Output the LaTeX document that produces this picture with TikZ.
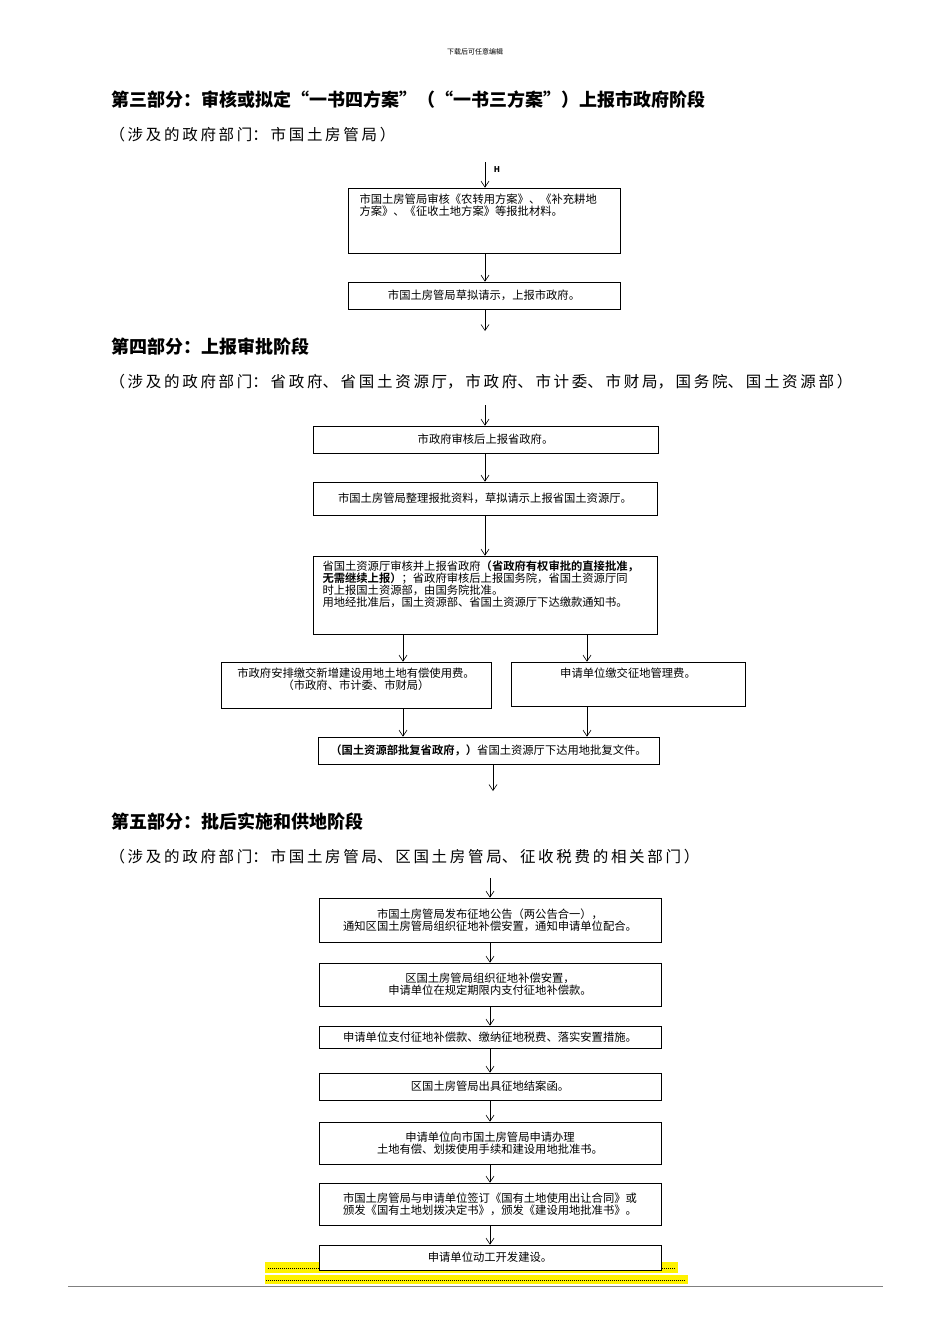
\documentclass[tikz,border=0pt]{standalone}
\usepackage{fontspec}
\setmainfont{Noto Sans CJK SC}
\newfontfamily\cjkb{Noto Sans CJK SC Bold}
\usetikzlibrary{arrows.meta}
\newcommand\gp{\hspace{2.7pt}}
\begin{document}
\begin{tikzpicture}[x=1pt,y=-1pt,
 bx/.style={draw,line width=0.7pt,inner sep=0pt},
 tx/.style={font=\fontsize{11.3}{12}\selectfont,align=center},
 ar/.style={-{Straight Barb[length=6pt,width=8pt]},line width=0.6pt},
 hd/.style={anchor=west,font=\fontsize{18}{19}\selectfont\bfseries},
 sb/.style={anchor=west,font=\fontsize{15.5}{18}\selectfont}]
\useasboundingbox[fill=white] (0,0) rectangle (950,1344);
\node[font=\fontsize{7}{8}\selectfont] (top) at (475,52) {下载后可任意编辑};
\node[hd] (h1) at (108,100) {第三部分：审核或拟定“一书四方案”（“一书三方案”）上报市政府阶段};
\node[sb] (s1) at (106,135) {（\gp 涉\gp 及\gp 的\gp 政\gp 府\gp 部\gp 门：\gp 市\gp 国\gp 土\gp 房\gp 管\gp 局\gp ）};
\node[font=\fontsize{8}{9}\selectfont\bfseries] (H) at (497,170) {H};
\coordinate (a0) at (485,162);
\node[bx,minimum width=272pt,minimum height=65pt] (b1) at (484,220.5) {};
\node[tx,align=left,anchor=north west,text width=260pt] (t1) at (356,190) {市国土房管局审核《农转用方案》、《补充耕地\\方案》、《征收土地方案》等报批材料。};
\draw[ar] (a0) -- (b1.north -| a0);
\node[bx,minimum width=272pt,minimum height=27pt,tx] (b2) at (484,295.5) {市国土房管局草拟请示，上报市政府。};
\draw[ar] (b1.south -| a0) -- (b2.north -| a0);
\coordinate (a1) at (485,331);
\draw[ar] (b2.south -| a0) -- (a1);
\node[hd] (h2) at (108,347) {第四部分：上报审批阶段};
\node[sb] (s2) at (106,382) {（\gp 涉\gp 及\gp 的\gp 政\gp 府\gp 部\gp 门：\gp 省\gp 政\gp 府、\gp 省\gp 国\gp 土\gp 资\gp 源\gp 厅，\gp 市\gp 政\gp 府、\gp 市\gp 计\gp 委、\gp 市\gp 财\gp 局，\gp 国\gp 务\gp 院、\gp 国\gp 土\gp 资\gp 源\gp 部\gp ）};
\coordinate (a2) at (485,405);
\node[bx,minimum width=345pt,minimum height=27pt,tx] (b3) at (485.5,439.5) {市政府审核后上报省政府。};
\draw[ar] (a2) -- (b3.north -| a2);
\node[bx,minimum width=344pt,minimum height=33pt,tx] (b4) at (485,498.5) {市国土房管局整理报批资料，草拟请示上报省国土资源厅。};
\draw[ar] (b3.south -| a2) -- (b4.north -| a2);
\node[bx,minimum width=344pt,minimum height=78pt] (b5) at (485,595) {};
\node[tx,align=left,anchor=north west,text width=340pt] (t5) at (319,557) {省国土资源厅审核并上报省政府{\cjkb（省政府有权审批的直接批准，}\\{\cjkb 无需继续上报）}；省政府审核后上报国务院，省国土资源厅同\\时上报国土资源部，由国务院批准。\\用地经批准后，国土资源部、省国土资源厅下达缴款通知书。};
\draw[ar] (b4.south -| a2) -- (b5.north -| a2);
\node[bx,minimum width=270pt,minimum height=46pt] (b6) at (356,685) {};
\node[tx,anchor=north] (t6) at (356,664) {市政府安排缴交新增建设用地土地有偿使用费。\\（市政府、市计委、市财局）};
\node[bx,minimum width=234pt,minimum height=44pt] (b7) at (628,684) {};
\node[tx,anchor=north] (t7) at (628,664) {申请单位缴交征地管理费。};
\coordinate (L) at (403,0); \coordinate (R) at (587,0);
\draw[ar] (b5.south -| L) -- (b6.north -| L);
\draw[ar] (b5.south -| R) -- (b7.north -| R);
\node[bx,minimum width=341pt,minimum height=27pt,tx] (b8) at (488.5,750.5) {{\cjkb（国土资源部批复省政府，）}省国土资源厅下达用地批复文件。};
\draw[ar] (b6.south -| L) -- (b8.north -| L);
\draw[ar] (b7.south -| R) -- (b8.north -| R);
\coordinate (a3) at (493,791);
\draw[ar] (b8.south -| a3) -- (a3);
\node[hd] (h3) at (108,822) {第五部分：批后实施和供地阶段};
\node[sb] (s3) at (106,857) {（\gp 涉\gp 及\gp 的\gp 政\gp 府\gp 部\gp 门：\gp 市\gp 国\gp 土\gp 房\gp 管\gp 局、\gp 区\gp 国\gp 土\gp 房\gp 管\gp 局、\gp 征\gp 收\gp 税\gp 费\gp 的\gp 相\gp 关\gp 部\gp 门\gp ）};
\coordinate (a4) at (490,878);
\node[bx,minimum width=342pt,minimum height=44pt,tx] (c1) at (490,920) {市国土房管局发布征地公告（两公告合一），\\通知区国土房管局组织征地补偿安置，通知申请单位配合。};
\node[bx,minimum width=342pt,minimum height=43pt,tx] (c2) at (490,984.5) {区国土房管局组织征地补偿安置，\\申请单位在规定期限内支付征地补偿款。};
\node[bx,minimum width=342pt,minimum height=22pt,tx] (c3) at (490,1037) {申请单位支付征地补偿款、缴纳征地税费、落实安置措施。};
\node[bx,minimum width=342pt,minimum height=27pt,tx] (c4) at (490,1086.5) {区国土房管局出具征地结案函。};
\node[bx,minimum width=342pt,minimum height=42pt,tx] (c5) at (490,1143) {申请单位向市国土房管局申请办理\\土地有偿、划拨使用手续和建设用地批准书。};
\node[bx,minimum width=342pt,minimum height=42pt,tx] (c6) at (490,1204) {市国土房管局与申请单位签订《国有土地使用出让合同》或\\颁发《国有土地划拨决定书》，颁发《建设用地批准书》。};
\fill[yellow] (265,1262) rectangle (678,1273);
\fill[yellow] (265,1275) rectangle (688,1284);
\draw[line width=0.4pt,dash pattern=on 1pt off 1pt] (268,1268) -- (676,1268);
\draw[line width=0.4pt,dash pattern=on 1pt off 1pt] (266,1280) -- (686,1280);
\node[bx,fill=white,minimum width=342pt,minimum height=25pt,tx] (c7) at (490,1257.5) {申请单位动工开发建设。};
\draw[ar] (a4) -- (c1.north -| a4);
\draw[ar] (c1) -- (c2); \draw[ar] (c2) -- (c3); \draw[ar] (c3) -- (c4);
\draw[ar] (c4) -- (c5); \draw[ar] (c5) -- (c6); \draw[ar] (c6) -- (c7);
\draw[gray,line width=1pt] (68,1286) -- (883,1286);
\end{tikzpicture}
\end{document}
